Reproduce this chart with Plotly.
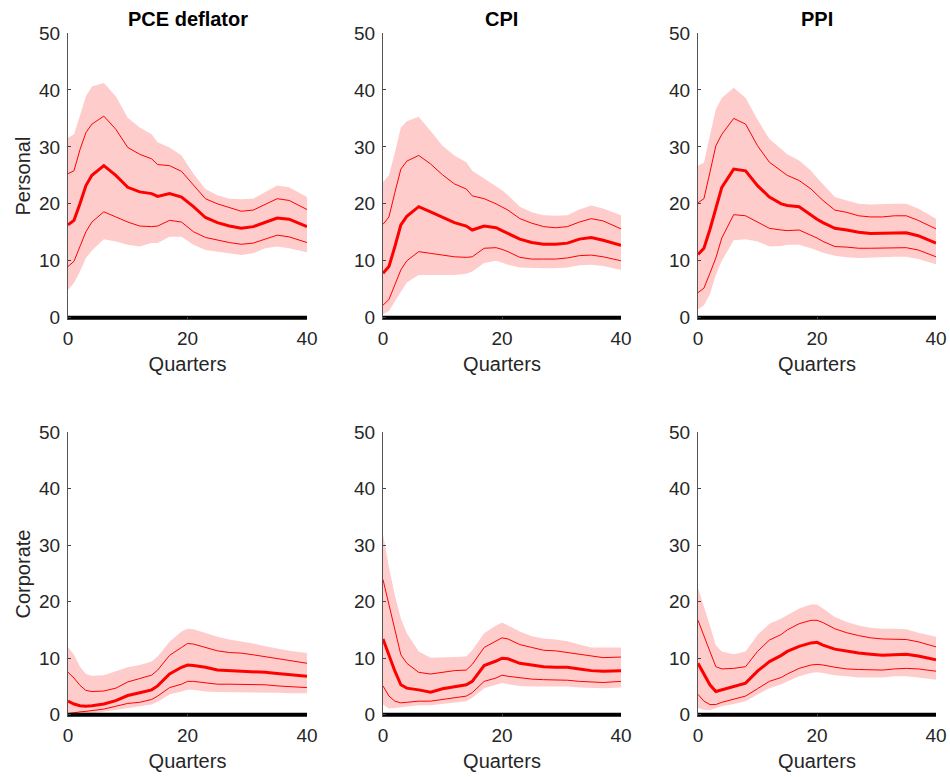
import plotly.graph_objects as go

# ---------------- data ----------------
quarters = [0, 1, 2, 3, 4, 6, 8, 10, 12, 14, 15, 17, 19, 20, 21, 23, 25, 27, 29, 31, 33, 35, 37, 40]

col_titles = ["PCE deflator", "CPI", "PPI"]
row_titles = ["Personal", "Corporate"]
x_ticks = [0, 20, 40]
y_ticks = [0, 10, 20, 30, 40, 50]

# Personal, PCE deflator
pce_pers_med = [16.3, 17.1, 20.0, 23.2, 25.0, 26.7, 25.0, 22.9, 22.1, 21.8, 21.3, 21.8, 21.2, 20.4, 19.5, 17.6, 16.7, 16.1, 15.7, 16.0, 16.8, 17.5, 17.3, 16.0]
pce_pers_hi68 = [25.3, 25.8, 29.5, 32.5, 34.0, 35.4, 33.1, 29.9, 28.7, 27.9, 26.9, 26.7, 25.7, 24.5, 23.2, 20.9, 20.0, 19.3, 18.7, 18.9, 19.9, 20.9, 20.6, 19.0]
pce_pers_lo68 = [9.0, 9.9, 12.5, 15.1, 16.8, 18.6, 17.7, 16.8, 16.1, 16.0, 16.1, 17.1, 16.8, 16.0, 15.1, 14.1, 13.6, 13.2, 12.9, 13.1, 13.8, 14.5, 14.2, 13.2]
pce_pers_hi90 = [31.6, 32.2, 35.5, 38.9, 40.6, 41.2, 38.9, 35.1, 33.4, 32.2, 30.8, 29.9, 28.5, 27.0, 25.3, 22.6, 21.5, 20.9, 20.8, 20.9, 22.1, 23.2, 22.9, 21.2]
pce_pers_lo90 = [4.9, 6.1, 8.1, 10.5, 11.8, 13.8, 13.4, 12.8, 12.5, 13.1, 13.1, 14.2, 14.2, 13.5, 12.8, 11.9, 11.6, 11.3, 11.0, 11.3, 12.2, 12.5, 12.2, 11.5]

# Personal, CPI
cpi_pers_med = [7.8, 9.0, 12.5, 16.3, 17.8, 19.5, 18.6, 17.6, 16.7, 16.1, 15.4, 16.1, 15.8, 15.3, 14.8, 13.8, 13.2, 12.9, 12.9, 13.1, 13.8, 14.1, 13.6, 12.7]
cpi_pers_hi68 = [16.4, 17.7, 22.0, 26.1, 27.5, 28.5, 27.0, 25.1, 23.5, 22.6, 21.4, 20.9, 20.0, 19.5, 18.9, 17.4, 16.6, 16.0, 15.8, 16.0, 16.8, 17.4, 17.0, 15.6]
cpi_pers_lo68 = [2.2, 3.2, 5.8, 8.4, 10.0, 11.6, 11.3, 11.0, 10.7, 10.6, 10.7, 12.2, 12.3, 12.0, 11.6, 10.6, 10.3, 10.3, 10.3, 10.5, 10.9, 11.0, 10.7, 10.0]
cpi_pers_hi90 = [23.8, 25.0, 29.0, 33.4, 34.5, 35.3, 32.8, 30.2, 28.5, 27.3, 25.8, 24.5, 23.2, 22.4, 21.5, 19.5, 18.5, 18.0, 17.9, 18.0, 19.0, 19.7, 19.2, 18.0]
cpi_pers_lo90 = [0.6, 1.2, 2.9, 4.6, 6.2, 7.5, 7.5, 7.5, 7.5, 7.7, 8.1, 9.6, 10.0, 9.7, 9.3, 8.8, 8.7, 8.7, 8.7, 8.8, 9.2, 9.3, 9.1, 8.4]

# Personal, PPI
ppi_pers_med = [11.1, 12.2, 15.5, 19.2, 22.9, 26.1, 25.8, 23.2, 21.2, 20.0, 19.7, 19.5, 18.0, 17.3, 16.7, 15.7, 15.4, 15.0, 14.8, 14.8, 14.9, 14.9, 14.4, 13.1]
ppi_pers_hi68 = [20.2, 20.9, 25.5, 30.2, 32.2, 35.0, 34.0, 30.2, 27.3, 25.8, 25.0, 24.1, 22.6, 21.6, 20.6, 18.9, 18.5, 17.9, 17.7, 17.7, 17.9, 17.9, 17.1, 15.6]
ppi_pers_lo68 = [4.4, 5.2, 7.8, 10.5, 14.0, 18.1, 17.9, 16.8, 15.7, 15.4, 15.3, 15.4, 14.5, 14.0, 13.4, 12.5, 12.4, 12.2, 12.2, 12.2, 12.3, 12.3, 11.9, 10.7]
ppi_pers_hi90 = [26.7, 27.2, 32.0, 36.6, 38.6, 40.4, 38.6, 34.8, 31.4, 29.6, 28.7, 27.6, 25.8, 24.6, 23.5, 21.2, 20.6, 20.0, 19.9, 20.0, 20.0, 20.0, 19.2, 17.4]
ppi_pers_lo90 = [1.5, 2.2, 4.1, 7.5, 10.0, 13.6, 13.8, 13.4, 12.5, 12.6, 12.8, 12.8, 12.2, 11.8, 11.4, 10.9, 10.6, 10.5, 10.5, 10.6, 10.7, 10.7, 10.3, 9.4]

# Corporate, PCE deflator
pce_corp_med = [2.4, 1.9, 1.6, 1.5, 1.6, 1.9, 2.5, 3.4, 3.9, 4.4, 5.1, 7.2, 8.4, 8.8, 8.7, 8.4, 7.9, 7.8, 7.8, 7.7, 7.5, 7.3, 7.1, 6.8]
pce_corp_hi68 = [7.5, 6.5, 5.2, 4.3, 4.1, 4.2, 4.7, 5.8, 6.4, 7.0, 7.9, 10.5, 11.9, 12.6, 12.5, 11.9, 11.3, 11.0, 10.9, 10.6, 10.3, 10.0, 9.6, 9.1]
pce_corp_lo68 = [0.2, 0.4, 0.5, 0.6, 0.7, 1.0, 1.5, 2.0, 2.2, 2.7, 3.3, 4.8, 5.4, 5.9, 5.9, 5.6, 5.4, 5.4, 5.4, 5.3, 5.3, 5.1, 5.0, 4.8]
pce_corp_hi90 = [12.0, 10.6, 8.5, 7.2, 6.9, 7.0, 7.7, 8.4, 8.8, 9.4, 10.3, 12.9, 14.7, 15.2, 15.1, 14.4, 13.8, 13.3, 13.0, 12.6, 12.1, 11.7, 11.3, 10.9]
pce_corp_lo90 = [0.0, 0.0, 0.05, 0.1, 0.2, 0.5, 0.9, 1.2, 1.5, 1.8, 2.3, 3.6, 4.1, 4.4, 4.4, 4.1, 4.0, 4.0, 4.0, 4.0, 3.9, 3.9, 3.8, 3.8]

# Corporate, CPI
cpi_corp_med = [13.4, 10.6, 7.7, 5.3, 4.7, 4.4, 4.0, 4.6, 5.0, 5.3, 5.9, 8.7, 9.5, 10.0, 9.9, 9.1, 8.8, 8.5, 8.4, 8.4, 8.1, 7.8, 7.7, 7.8]
cpi_corp_hi68 = [23.9, 19.3, 14.7, 10.6, 9.1, 7.5, 7.2, 7.5, 7.8, 7.9, 8.9, 11.9, 13.1, 13.6, 13.4, 12.4, 11.9, 11.4, 11.3, 11.0, 10.7, 10.3, 10.1, 10.2]
cpi_corp_lo68 = [5.1, 3.3, 2.4, 2.1, 2.2, 2.4, 2.4, 2.7, 3.0, 3.3, 3.9, 5.9, 6.5, 7.0, 6.8, 6.5, 6.3, 6.2, 6.2, 6.1, 5.9, 5.8, 5.7, 5.9]
cpi_corp_hi90 = [31.9, 26.1, 21.1, 17.0, 14.4, 11.2, 10.1, 10.1, 10.2, 10.3, 11.4, 14.4, 15.8, 16.3, 15.8, 14.7, 13.9, 13.5, 13.3, 13.0, 12.4, 11.9, 11.9, 11.9]
cpi_corp_lo90 = [1.8, 1.1, 1.2, 1.3, 1.5, 1.7, 1.7, 1.9, 2.1, 2.4, 3.0, 4.7, 5.3, 5.6, 5.4, 5.1, 5.0, 5.0, 5.0, 5.0, 4.8, 4.7, 4.7, 4.8]

# Corporate, PPI
ppi_corp_med = [9.1, 7.1, 5.3, 4.1, 4.4, 5.1, 5.6, 7.7, 9.4, 10.5, 11.2, 12.1, 12.7, 12.8, 12.3, 11.6, 11.2, 10.9, 10.7, 10.5, 10.6, 10.7, 10.4, 9.7]
ppi_corp_hi68 = [16.7, 14.1, 11.2, 8.5, 8.1, 8.2, 8.5, 11.2, 13.2, 14.2, 15.0, 16.1, 16.7, 16.7, 16.3, 15.2, 14.5, 14.0, 13.6, 13.4, 13.4, 13.3, 12.9, 12.0]
ppi_corp_lo68 = [3.6, 2.4, 1.8, 1.8, 2.2, 2.8, 3.3, 4.6, 5.9, 6.6, 7.2, 8.2, 8.8, 8.9, 8.8, 8.4, 8.1, 8.0, 7.9, 7.9, 8.1, 8.2, 8.1, 7.7]
ppi_corp_hi90 = [22.4, 19.3, 15.8, 12.3, 11.2, 10.7, 11.2, 14.1, 16.1, 17.0, 17.6, 18.8, 19.5, 19.5, 18.8, 17.3, 16.4, 15.8, 15.4, 15.2, 15.2, 15.1, 14.5, 13.8]
ppi_corp_lo90 = [1.2, 0.9, 0.8, 1.1, 1.5, 1.9, 2.4, 3.6, 4.7, 5.4, 5.9, 6.8, 7.4, 7.5, 7.4, 7.0, 6.8, 6.6, 6.6, 6.6, 6.8, 6.8, 6.6, 6.2]

panels = [
    [
        (pce_pers_med, pce_pers_hi68, pce_pers_lo68, pce_pers_hi90, pce_pers_lo90),
        (cpi_pers_med, cpi_pers_hi68, cpi_pers_lo68, cpi_pers_hi90, cpi_pers_lo90),
        (ppi_pers_med, ppi_pers_hi68, ppi_pers_lo68, ppi_pers_hi90, ppi_pers_lo90),
    ],
    [
        (pce_corp_med, pce_corp_hi68, pce_corp_lo68, pce_corp_hi90, pce_corp_lo90),
        (cpi_corp_med, cpi_corp_hi68, cpi_corp_lo68, cpi_corp_hi90, cpi_corp_lo90),
        (ppi_corp_med, ppi_corp_hi68, ppi_corp_lo68, ppi_corp_hi90, ppi_corp_lo90),
    ],
]

# ---------------- layout ----------------
W, H = 950, 777
x_px = [(68, 307), (383, 621), (698, 936)]   # screen pixels
y_px = [(33, 320), (432, 717)]


def fx(px):
    return px / W


def fy(py):
    return 1 - py / H


FONT = "Liberation Sans, Arial, Helvetica, sans-serif"
TXT = "#262626"
BAND = "#FFCCCC"
RED = "#FF0000"

fig = go.Figure()
layout = dict(
    width=W, height=H,
    margin=dict(l=0, r=0, t=0, b=0, autoexpand=False),
    paper_bgcolor="white", plot_bgcolor="white",
    showlegend=False,
    font=dict(family=FONT, color=TXT, size=19),
)
annotations = []

k = 0
for r in range(2):
    for c in range(3):
        k += 1
        xa = "x" if k == 1 else f"x{k}"
        ya = "y" if k == 1 else f"y{k}"
        med, hi68, lo68, hi90, lo90 = panels[r][c]
        # shaded band
        fig.add_trace(go.Scatter(x=quarters, y=hi90, mode="lines", line=dict(width=0, color=BAND),
                                 xaxis=xa, yaxis=ya, hoverinfo="skip"))
        fig.add_trace(go.Scatter(x=quarters, y=lo90, mode="lines", line=dict(width=0, color=BAND),
                                 fill="tonexty", fillcolor=BAND, xaxis=xa, yaxis=ya, hoverinfo="skip"))
        # inner bands
        fig.add_trace(go.Scatter(x=quarters, y=hi68, mode="lines", line=dict(width=1, color=RED),
                                 xaxis=xa, yaxis=ya))
        fig.add_trace(go.Scatter(x=quarters, y=lo68, mode="lines", line=dict(width=1, color=RED),
                                 xaxis=xa, yaxis=ya))
        # median
        fig.add_trace(go.Scatter(x=quarters, y=med, mode="lines", line=dict(width=3, color=RED),
                                 xaxis=xa, yaxis=ya))
        # zero line
        fig.add_trace(go.Scatter(x=[quarters[0], quarters[-1]], y=[0, 0], mode="lines",
                                 line=dict(width=4, color="black"), xaxis=xa, yaxis=ya))

        x0, x1 = x_px[c]
        y0, y1 = y_px[r]
        xkey = "xaxis" if k == 1 else f"xaxis{k}"
        ykey = "yaxis" if k == 1 else f"yaxis{k}"
        layout[xkey] = dict(
            domain=[fx(x0), fx(x1)], anchor=ya, range=[0, 40], automargin=False,
            tickvals=x_ticks, ticks="inside", ticklen=3, tickcolor="#444",
            ticklabelstandoff=5,
            showline=False, showgrid=False, zeroline=False,
            tickfont=dict(size=19, color=TXT, family=FONT),
            title=dict(text="Quarters", font=dict(size=20, color=TXT, family=FONT), standoff=8),
        )
        layout[ykey] = dict(
            domain=[fy(y1), fy(y0)], anchor=xa, range=[-0.4, 50], automargin=False,
            tickvals=y_ticks, ticks="inside", ticklen=3, tickcolor="#444",
            ticklabelstandoff=3,
            showline=True, linecolor="#555", linewidth=1,
            showgrid=False, zeroline=False,
            tickfont=dict(size=19, color=TXT, family=FONT),
        )
        if r == 0:
            annotations.append(dict(
                text=f"<b>{col_titles[c]}</b>", x=fx((x0 + x1) / 2), y=fy(19),
                xref="paper", yref="paper", showarrow=False,
                font=dict(size=20, color="black", family=FONT), xanchor="center", yanchor="middle"))
    y0, y1 = y_px[r]
    annotations.append(dict(
        text=row_titles[r], x=fx(22), y=fy((y0 + y1) / 2),
        xref="paper", yref="paper", showarrow=False, textangle=-90,
        font=dict(size=20, color=TXT, family=FONT), xanchor="center", yanchor="middle"))

layout["annotations"] = annotations
fig.update_layout(**layout)
fig.write_html(
    "out.html",
    config={"displayModeBar": False},
    post_script="document.body.style.margin='0';document.body.style.overflow='hidden';",
)
